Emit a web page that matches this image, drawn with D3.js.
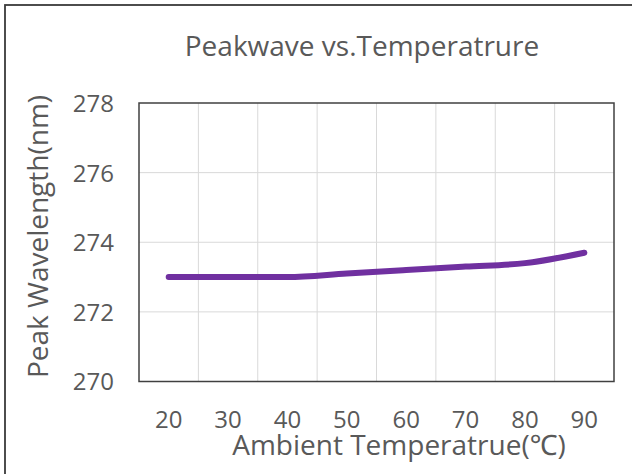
<!DOCTYPE html>
<html><head><meta charset="utf-8">
<script src="https://cdn.jsdelivr.net/npm/d3@7/dist/d3.min.js"></script>
<style>html,body{margin:0;padding:0;background:#fff;}svg{display:block;font-family:"Open Sans","Noto Sans",sans-serif;}</style>
</head><body>
<svg id="c" width="632" height="474"></svg>
<script>
const categories = [20, 30, 40, 50, 60, 70, 80, 90];
const peakWavelength = [273.0, 273.0, 273.0, 273.1, 273.2, 273.3, 273.4, 273.7];
const yTicks = [270, 272, 274, 276, 278];
const titleText = "Peakwave vs.Temperatrure";
const xTitle = "Ambient Temperatrue(\u2103)";
const yTitle = "Peak Wavelength(nm)";

const svg = d3.select("#c");
const m = {left: 139, right: 614, top: 103, bottom: 381.5};
const textColor = "#595959";
const fontFam = "'Open Sans','Noto Sans',sans-serif";

svg.append("rect").attr("x", 5).attr("y", 5).attr("width", 640).attr("height", 480)
  .attr("fill", "#fff").attr("stroke", "#3a3a3a").attr("stroke-width", 1.8);

const x = d3.scaleBand().domain(categories).range([m.left, m.right]).padding(0);
const y = d3.scaleLinear().domain([270, 278]).range([m.bottom, m.top]);

// gridlines
const g = svg.append("g");
g.selectAll("line.h").data(yTicks.slice(1, -1)).join("line")
  .attr("x1", m.left).attr("x2", m.right)
  .attr("y1", d => y(d)).attr("y2", d => y(d))
  .attr("stroke", "#d9d9d9").attr("stroke-width", 1);
g.selectAll("line.v").data(categories.slice(1)).join("line")
  .attr("x1", d => x(d)).attr("x2", d => x(d))
  .attr("y1", m.top).attr("y2", m.bottom)
  .attr("stroke", "#d9d9d9").attr("stroke-width", 1);

// frame
svg.append("rect").attr("x", m.left).attr("y", m.top)
  .attr("width", m.right - m.left).attr("height", m.bottom - m.top)
  .attr("fill", "none").attr("stroke", "#404040").attr("stroke-width", 1.5);

// y axis
const yAxis = svg.append("g").attr("transform", `translate(${m.left},0)`)
  .call(d3.axisLeft(y).tickValues(yTicks).tickSize(0).tickPadding(25));
yAxis.select(".domain").remove();
yAxis.selectAll("text").attr("fill", textColor).attr("dy", "0.35em")
  .style("font-size", "24px").style("font-family", fontFam);

// x axis
const xAxis = svg.append("g").attr("transform", `translate(0,${m.bottom})`)
  .call(d3.axisBottom(x).tickSize(0));
xAxis.select(".domain").remove();
xAxis.selectAll("text").attr("fill", textColor).attr("y", 46.5).attr("dy", 0)
  .style("font-size", "24px").style("font-family", fontFam);

// line
const line = d3.line()
  .x((d, i) => x(categories[i]) + x.bandwidth() / 2)
  .y(d => y(d))
  .curve(d3.curveMonotoneX);
svg.append("path").datum(peakWavelength)
  .attr("d", line).attr("fill", "none")
  .attr("stroke", "#7030A0").attr("stroke-width", 6)
  .attr("stroke-linecap", "round").attr("stroke-linejoin", "round");

// titles
svg.append("text").attr("x", 362).attr("y", 56).attr("text-anchor", "middle")
  .attr("fill", textColor).style("font-size", "28px").text(titleText);
svg.append("text").attr("x", 399).attr("y", 455).attr("text-anchor", "middle")
  .attr("fill", textColor).style("font-size", "28px").text(xTitle);
svg.append("text").attr("transform", "translate(48,236.5) rotate(-90)").attr("text-anchor", "middle")
  .attr("fill", textColor).style("font-size", "28px").text(yTitle);
</script>
</body></html>
